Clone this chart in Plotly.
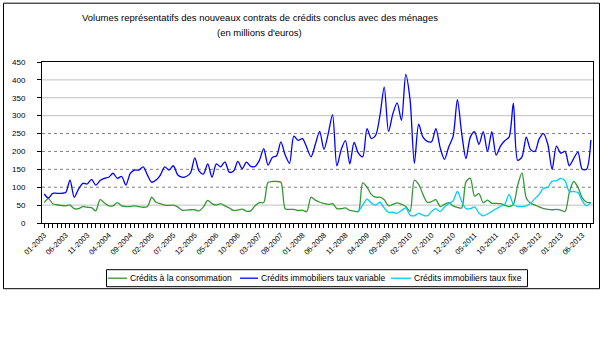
import plotly.graph_objects as go

# Monthly categories 01-2003 .. 08-2013
months = [f"{m:02d}-{y}" for y in range(2003, 2014) for m in range(1, 13)][:128]
tick_labels = ["01-2003", "06-2003", "11-2003", "04-2004", "09-2004", "02-2005", "07-2005",
               "12-2005", "05-2006", "10-2006", "03-2007", "08-2007", "01-2008", "06-2008",
               "11-2008", "04-2009", "09-2009", "02-2010", "07-2010", "12-2010", "05-2011",
               "10-2011", "03-2012", "08-2012", "01-2013", "06-2013"]

taux_variable = [81, 70, 83, 83, 83, 85, 120, 72, 95, 111,
                 109, 122, 106, 119, 125, 128, 139, 125, 130, 106,
                 139, 148, 148, 157, 134, 114, 120, 134, 157, 148,
                 160, 135, 128, 130, 140, 182, 145, 137, 165, 128,
                 165, 157, 171, 142, 145, 172, 152, 170, 158, 158,
                 175, 208, 162, 183, 188, 227, 190, 167, 243, 231,
                 236, 211, 185, 220, 256, 206, 250, 303, 160, 205,
                 230, 165, 225, 195, 185, 264, 236, 245, 300, 380,
                 256, 305, 336, 287, 415, 345, 167, 276, 240, 228,
                 227, 264, 210, 178, 213, 242, 345, 250, 180, 240,
                 255, 220, 255, 200, 255, 190, 215, 230, 240, 335,
                 175, 185, 240, 205, 200, 235, 250, 220, 150, 215,
                 195, 200, 160, 180, 198, 150, 150, 232]

consommation = [57, 68, 54, 51, 49, 48, 50, 40, 40, 46,
                44, 43, 34, 65, 56, 48, 48, 57, 48, 46,
                46, 48, 46, 44, 46, 72, 58, 54, 50, 49,
                50, 45, 36, 36, 37, 37, 34, 45, 63, 54,
                50, 54, 48, 42, 35, 36, 39, 33, 34, 48,
                57, 57, 113, 116, 116, 114, 40, 38, 38, 35,
                36, 32, 72, 64, 58, 55, 52, 54, 40, 40,
                42, 35, 33, 32, 112, 100, 80, 72, 72, 65,
                48, 52, 56, 52, 46, 32, 120, 108, 80, 58,
                60, 65, 46, 52, 57, 48, 44, 42, 115, 125,
                75, 82, 57, 64, 55, 55, 54, 50, 46, 52,
                105, 140, 70, 55, 50, 45, 40, 38, 37, 38,
                36, 32, 85, 116, 100, 70, 58, 57]

taux_fixe = [None] * 73 + [32, 50, 67, 56, 50, 58, 42, 30, 30, 27,
                           35, 42, 22, 20, 27, 22, 20, 32, 40, 32,
                           45, 54, 62, 88, 60, 40, 40, 45, 28, 20,
                           25, 32, 40, 46, 52, 80, 52, 46, 46, 48,
                           55, 68, 80, 97, 100, 117, 118, 125, 118, 88,
                           88, 85, 62, 48, 57]

series_names = ["Crédits à la consommation", "Crédits immobiliers taux variable",
                "Crédits immobiliers taux fixe"]
series_colors = ["#339933", "#0000FF", "#00CCFF"]
series_values = [consommation, taux_variable, taux_fixe]

solid_grid = [50, 300, 350, 400]
dotted_grid = [100, 150, 200, 250]

FONT = "Liberation Sans, Arial, sans-serif"

# plot area in pixels: x 42..593, y 62.3..223.3
L, R, T, B = 42.0, 593.0, 62.3, 223.3


def px(x):
    return (x - L) / (R - L)


def py(y):
    return (B - y) / (B - T)


fig = go.Figure()
for name, color, vals in zip(series_names, series_colors, series_values):
    fig.add_trace(go.Scatter(x=months, y=vals, name=name, mode="lines",
                             line=dict(color=color, width=1.3, shape="spline", smoothing=0.8)))

shapes = []
for v in solid_grid:
    shapes.append(dict(type="line", xref="paper", yref="y", x0=0, x1=1, y0=v, y1=v,
                       line=dict(color="#C0C0C0", width=1), layer="below"))
for v in dotted_grid:
    shapes.append(dict(type="line", xref="paper", yref="y", x0=0, x1=1, y0=v, y1=v,
                       line=dict(color="#808080", width=1, dash="dot"), layer="below"))
# outer chart border
shapes.append(dict(type="rect", xref="paper", yref="paper", x0=px(3.5), x1=px(599.5),
                   y0=py(289), y1=py(3.5), line=dict(color="black", width=1)))
# legend box
shapes.append(dict(type="rect", xref="paper", yref="paper", x0=px(106.5), x1=px(527.5),
                   y0=py(287), y1=py(270), line=dict(color="black", width=1), fillcolor="white"))

annotations = [
    dict(text="Volumes représentatifs des nouveaux contrats de crédits conclus avec des ménages",
         xref="paper", yref="paper", x=px(260), y=py(18), xanchor="center", yanchor="middle",
         showarrow=False, font=dict(size=9.5)),
    dict(text="(en millions d'euros)",
         xref="paper", yref="paper", x=px(259), y=py(33), xanchor="center", yanchor="middle",
         showarrow=False, font=dict(size=9.5)),
]

legend_line_x = [(108, 127), (240, 258), (391, 411)]
legend_text_x = [129, 260, 413]
for name, color, (a, b), tx in zip(series_names, series_colors, legend_line_x, legend_text_x):
    shapes.append(dict(type="line", xref="paper", yref="paper", x0=px(a), x1=px(b),
                       y0=py(278.5), y1=py(278.5), line=dict(color=color, width=1.3)))
    annotations.append(dict(text=name, xref="paper", yref="paper", x=px(tx), y=py(278.5),
                            xanchor="left", yanchor="middle", showarrow=False,
                            font=dict(size=8.6), xshift=-1))

fig.update_layout(
    width=605, height=338,
    margin=dict(l=42, r=12, t=62, b=115),
    paper_bgcolor="white", plot_bgcolor="white",
    font=dict(family=FONT, size=9, color="black"),
    shapes=shapes,
    annotations=annotations,
    showlegend=False,
)

fig.update_xaxes(
    type="category", range=[-0.5, 127.5],
    tickmode="array", tickvals=months,
    ticktext=[m if m in tick_labels else "" for m in months],
    tickangle=-45, ticks="outside", ticklen=4, tickcolor="black",
    showline=True, linecolor="black", linewidth=1, mirror=True,
    showgrid=False, zeroline=False, tickfont=dict(size=7.5),
)
fig.update_yaxes(
    range=[0, 450], tickmode="linear", tick0=0, dtick=50,
    ticks="outside", ticklen=4, tickcolor="black", ticklabelstandoff=10,
    showline=True, linecolor="black", linewidth=1, mirror=True,
    showgrid=False, zeroline=False, tickfont=dict(size=8),
)

fig.write_html("out.html")
